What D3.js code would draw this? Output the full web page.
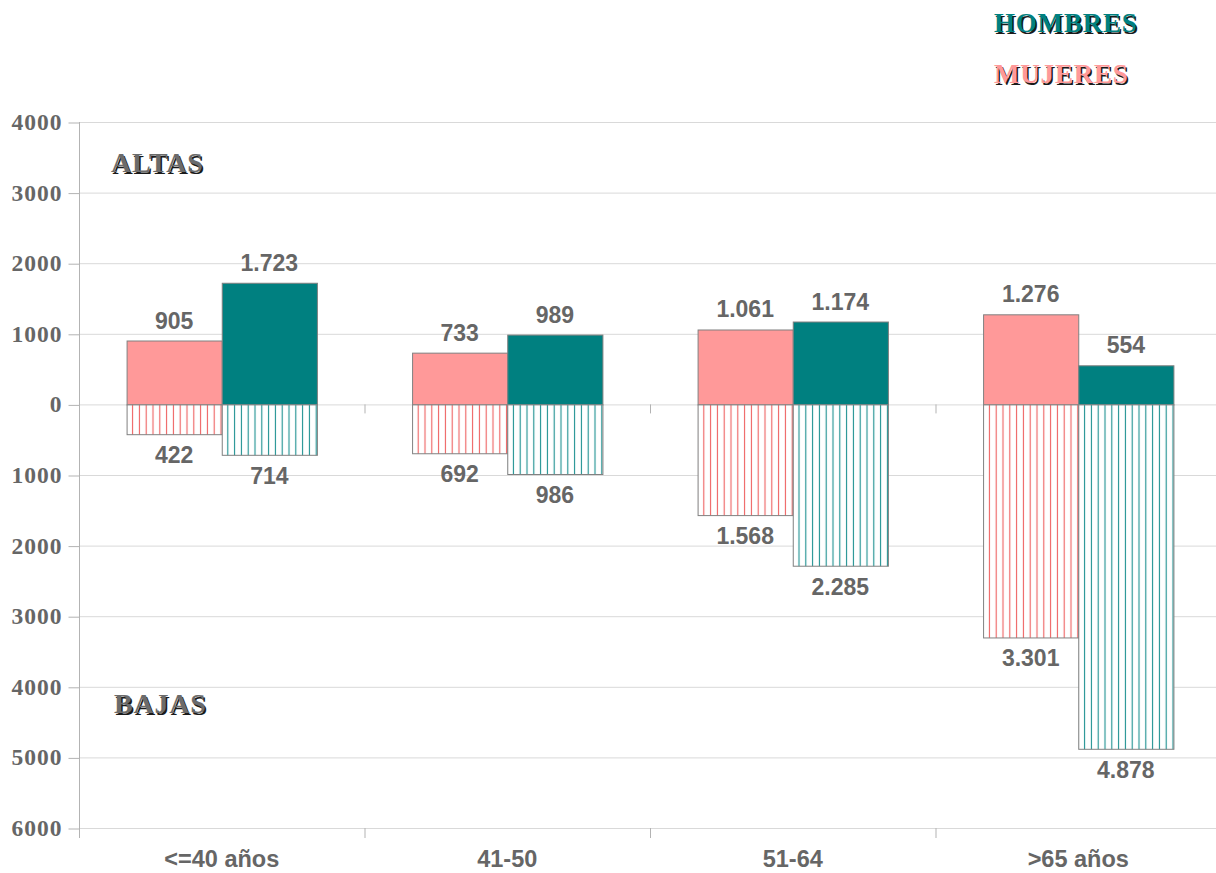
<!DOCTYPE html>
<html lang="es">
<head>
    <meta charset="UTF-8">
    <title>Altas y bajas por edad</title>
    <script src="https://d3js.org/d3.v7.min.js"></script>
    <style>
        body { margin: 0; background: #fff; }
        svg { display: block; }
        .grid line { stroke: #d9d9d9; stroke-width: 1px; }
        .y-axis text { font-family: "Liberation Serif", serif; font-weight: bold; font-size: 23.5px; fill: #666; letter-spacing: 1px; }
        .x-axis text { font-family: "Liberation Sans", Arial, sans-serif; font-weight: bold; font-size: 23.5px; fill: #666; }
        .axis path, .axis line { stroke: #b3b3b3; }
        .value { font-family: "Liberation Sans", Arial, sans-serif; font-weight: bold; font-size: 23px; fill: #666; }
        .title { font-family: "Liberation Serif", serif; font-weight: bold; }
    </style>
</head>
<body>
<svg width="1216" height="873"></svg>
<script>
    // data
    const categories = ["<=40 años", "41-50", "51-64", ">65 años"];
    const mujeresAltas = [905, 733, 1061, 1276];
    const hombresAltas = [1723, 989, 1174, 554];
    const mujeresBajas = [422, 692, 1568, 3301];
    const hombresBajas = [714, 986, 2285, 4878];
    const yTicks = [4000, 3000, 2000, 1000, 0, -1000, -2000, -3000, -4000, -5000, -6000];

    const PINK = "#ff9999", TEAL = "#008080";

    const svg = d3.select("svg");
    const margin = { left: 79, right: -5, top: 122, bottom: 45 };
    const width = 1216, height = 873;

    const x = d3.scaleBand().domain(categories).range([margin.left, width - margin.right]).paddingInner(0).paddingOuter(0);
    const series = d3.scaleBand().domain(["m", "h"]).range([0, x.bandwidth()]).paddingInner(0).paddingOuter(0.5);
    const y = d3.scaleLinear().domain([-6000, 4000]).range([828, 122]);

    const fmt = d3.formatLocale({ decimal: ",", thousands: ".", grouping: [3], currency: ["", "€"] }).format(",d");

    // hatch patterns for the bajas
    const defs = svg.append("defs");
    function hatch(id, color) {
        const p = defs.append("pattern").attr("id", id)
            .attr("patternUnits", "userSpaceOnUse").attr("width", 6.8).attr("height", 10);
        p.append("rect").attr("width", 6.8).attr("height", 10).attr("fill", "#fff");
        p.append("line").attr("x1", 3.4).attr("x2", 3.4).attr("y1", 0).attr("y2", 10)
            .attr("stroke", color).attr("stroke-width", 1.1);
    }
    hatch("hatch-m", "#ee5f5f");
    hatch("hatch-h", "#1a8f8f");

    // grid
    svg.append("g").attr("class", "grid")
        .selectAll("line").data(yTicks).enter().append("line")
        .attr("x1", margin.left).attr("x2", width)
        .attr("y1", d => y(d) + 0.5).attr("y2", d => y(d) + 0.5);

    // y axis
    const yAxis = svg.append("g").attr("class", "axis y-axis")
        .attr("transform", `translate(${margin.left + 0.5},0)`)
        .call(d3.axisLeft(y).tickValues(yTicks).tickSize(11).tickPadding(6).tickFormat(d => Math.abs(d)));
    yAxis.select(".domain").attr("d", `M0,${y(4000)}V${y(-6000) + 10}`);
    yAxis.selectAll(".tick line").attr("transform", "translate(0,0.5)");

    // x axis category separators
    const xAxis = svg.append("g").attr("class", "axis x-axis")
        .attr("transform", `translate(0,${y(-6000)})`);
    xAxis.selectAll("line").data(categories.slice(1)).enter().append("line")
        .attr("x1", d => x(d) + 0.5).attr("x2", d => x(d) + 0.5)
        .attr("y1", 0).attr("y2", 10);
    xAxis.selectAll("text").data(categories).enter().append("text")
        .attr("x", d => x(d) + x.bandwidth() / 2).attr("y", 39)
        .attr("text-anchor", "middle").text(d => d);

    // zero line ticks
    svg.append("g").selectAll("line").data(categories.slice(1)).enter().append("line")
        .attr("x1", d => x(d) + 0.5).attr("x2", d => x(d) + 0.5)
        .attr("y1", y(0)).attr("y2", y(0) + 9).attr("stroke", "#b3b3b3");

    const rows = categories.map((c, i) => [
        { cat: c, key: "m", alta: mujeresAltas[i], baja: mujeresBajas[i] },
        { cat: c, key: "h", alta: hombresAltas[i], baja: hombresBajas[i] }
    ]).flat();

    const bars = svg.append("g");
    // altas
    bars.selectAll(".alta").data(rows).enter().append("rect")
        .attr("x", d => x(d.cat) + series(d.key) + 0.5)
        .attr("width", series.bandwidth())
        .attr("y", d => y(d.alta) + 0.5)
        .attr("height", d => y(0) - y(d.alta))
        .attr("fill", d => d.key === "m" ? PINK : TEAL)
        .attr("stroke", "#808080").attr("stroke-width", 1);
    // bajas
    bars.selectAll(".baja").data(rows).enter().append("rect")
        .attr("x", d => x(d.cat) + series(d.key) + 0.5)
        .attr("width", series.bandwidth())
        .attr("y", y(0) + 0.5)
        .attr("height", d => y(-d.baja) - y(0))
        .attr("fill", d => d.key === "m" ? "url(#hatch-m)" : "url(#hatch-h)")
        .attr("stroke", "#808080").attr("stroke-width", 1);

    // value labels
    const labels = svg.append("g");
    labels.selectAll(".va").data(rows).enter().append("text").attr("class", "value")
        .attr("x", d => x(d.cat) + series(d.key) + series.bandwidth() / 2)
        .attr("y", d => y(d.alta) - 12)
        .attr("text-anchor", "middle").text(d => fmt(d.alta));
    labels.selectAll(".vb").data(rows).enter().append("text").attr("class", "value")
        .attr("x", d => x(d.cat) + series(d.key) + series.bandwidth() / 2)
        .attr("y", d => y(-d.baja) + 29)
        .attr("text-anchor", "middle").text(d => fmt(d.baja));

    // titles with drop shadow
    function shadowText(tx, ty, txt, color, size) {
        const g = svg.append("g").attr("class", "title")
            .style("font-size", size + "px").style("letter-spacing", "0.8px");
        g.append("text").attr("x", tx + 1.5).attr("y", ty + 1.5).attr("fill", "#1a1a1a").text(txt);
        g.append("text").attr("x", tx).attr("y", ty).attr("fill", color).text(txt);
    }
    shadowText(111, 172, "ALTAS", "#6b6b6b", 28);
    shadowText(114, 713, "BAJAS", "#6b6b6b", 28);
    shadowText(994, 32, "HOMBRES", TEAL, 27);
    shadowText(994, 83, "MUJERES", PINK, 27);
</script>
</body>
</html>
